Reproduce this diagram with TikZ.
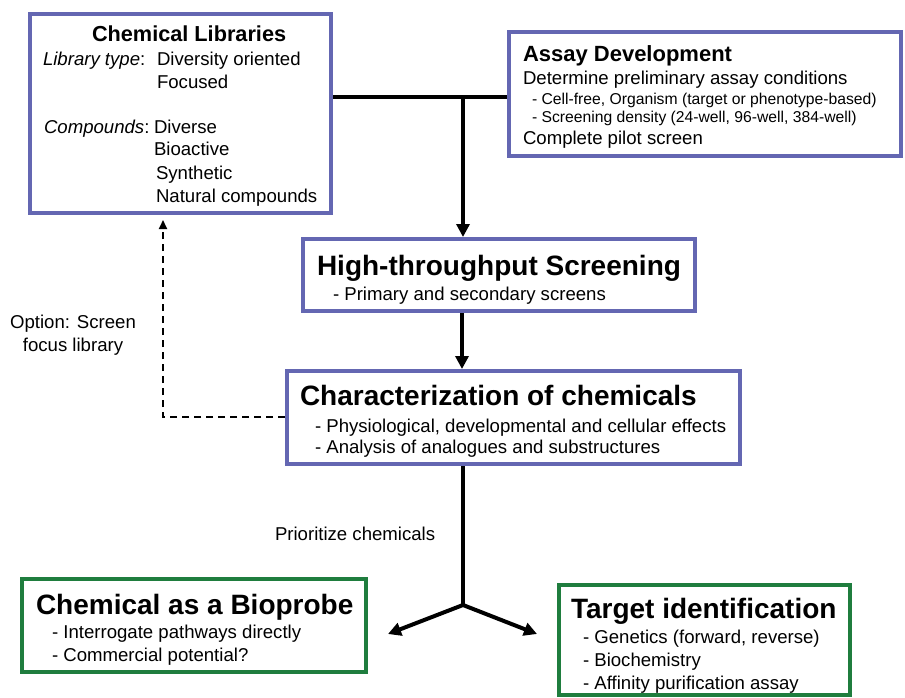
\documentclass[tikz,border=0pt]{standalone}
\usepackage{fontspec}
\setmainfont{Liberation Sans}
\usetikzlibrary{arrows.meta}
\definecolor{boxblue}{HTML}{6467B2}
\definecolor{boxgreen}{HTML}{1F7D3E}
\newcommand{\fsz}[1]{\fontsize{#1}{#1}\selectfont}
\tikzset{
  bluebox/.style={draw=boxblue, line width=4pt, rectangle, inner sep=0pt, fill=white},
  greenbox/.style={draw=boxgreen, line width=4pt, rectangle, inner sep=0pt, fill=white},
  txt/.style={anchor=base west, inner sep=0pt, outer sep=0pt},
  ttl/.style={txt, font=\fsz{22}\bfseries},
  bigttl/.style={txt, font=\fsz{28}\bfseries},
  body/.style={txt, font=\fsz{18.6}},
  small/.style={txt, font=\fsz{15.7}},
  conn/.style={line width=3.5pt, -{Triangle[length=13pt,width=13pt]}},
  dashconn/.style={line width=2pt, dash pattern=on 7pt off 5pt, -{Triangle[length=9pt,width=8pt]}},
}
\begin{document}
\begin{tikzpicture}[x=1pt, y=-1pt]
\useasboundingbox (0,0) rectangle (905,698);
% boxes
\node[bluebox, minimum width=301pt, minimum height=199pt] (lib) at (180.5,113.5) {};
\node[bluebox, minimum width=392pt, minimum height=124pt] (assay) at (705,94) {};
\node[bluebox, minimum width=392pt, minimum height=72pt] (hts) at (499,275) {};
\node[bluebox, minimum width=453pt, minimum height=93pt] (char) at (513.5,417.5) {};
\node[greenbox, minimum width=344pt, minimum height=93pt] (bio) at (194,625.5) {};
\node[greenbox, minimum width=291pt, minimum height=110pt] (target) at (704.5,640) {};
% Chemical Libraries text
\node[ttl, font=\fsz{21.7}\bfseries] (libt) at (92,42) {Chemical Libraries};
\node[body] (lib1) at (43,66) {\itshape Library type\upshape:};
\node[body] (lib2) at (157,66) {Diversity oriented};
\node[body] (lib3) at (157,89) {Focused};
\node[body] (lib4) at (44,134) {\itshape Compounds\upshape:};
\node[body] (lib5) at (154,134) {Diverse};
\node[body] (lib6) at (154,156) {Bioactive};
\node[body] (lib7) at (156,179) {Synthetic};
\node[body] (lib8) at (156,202) {Natural compounds};
% Assay Development text
\node[ttl] (ast) at (523,62) {Assay Development};
\node[body] (as1) at (523,85) {Determine preliminary assay conditions};
\node[small] (as2) at (532,105) {- Cell-free, Organism (target or phenotype-based)};
\node[small] (as3) at (532,123) {- Screening density (24-well, 96-well, 384-well)};
\node[body] (as4) at (523,145) {Complete pilot screen};
% HTS
\node[bigttl] (htst) at (317,275) {High-throughput Screening};
\node[body] (hts1) at (333,300) {- Primary and secondary screens};
% Characterization
\node[bigttl] (chart) at (300,405) {Characterization of chemicals};
\node[body] (char1) at (315,432) {- Physiological, developmental and cellular effects};
\node[body] (char2) at (315,453) {- Analysis of analogues and substructures};
% Bioprobe
\node[bigttl] (biot) at (36,614) {Chemical as a Bioprobe};
\node[body] (bio1) at (52,638) {- Interrogate pathways directly};
\node[body] (bio2) at (52,661) {- Commercial potential?};
% Target
\node[bigttl] (tgtt) at (571,618) {Target identification};
\node[body] (tgt1) at (583,643) {- Genetics (forward, reverse)};
\node[body] (tgt2) at (583,666) {- Biochemistry};
\node[body] (tgt3) at (583,689) {- Affinity purification assay};
% labels
\node[body, anchor=base] (opt1) at (73,328) {Option: Screen};
\node[body, anchor=base] (opt2) at (73,351) {focus library};
\node[body] (prio) at (275,540) {Prioritize chemicals};
% connectors
\coordinate (j1) at (463,97);
\draw[line width=3.5pt] (lib.east |- j1) -- (assay.west |- j1);
\draw[conn] (j1) -- (j1 |- hts.north);
\draw[conn] (hts.south -| 462,0) -- (char.north -| 462,0);
\coordinate (j2) at (463,605);
\coordinate (tipL) at (388,634);
\coordinate (tipR) at (537,634);
\draw[line width=3.5pt] (char.south -| j2) -- (j2);
\draw[conn, line width=4pt] (j2) -- (tipL);
\draw[conn, line width=4pt] (j2) -- (tipR);
\coordinate (d1) at (163,417);
\draw[dashconn, shorten >=5pt] (char.west |- d1) -- (d1) -- (d1 |- lib.south);
\end{tikzpicture}
\end{document}
